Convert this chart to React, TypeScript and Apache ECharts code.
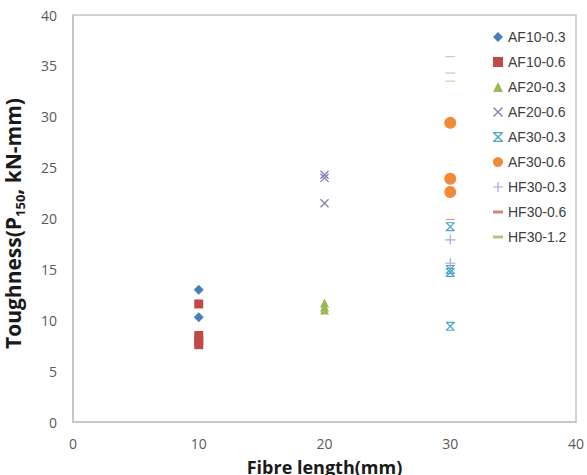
import React, { useEffect, useRef } from "react";
import * as echarts from "echarts";

// Mix labels and the fibre length (mm) each mix was tested at
const seriesNames = [
  "AF10-0.3",
  "AF10-0.6",
  "AF20-0.3",
  "AF20-0.6",
  "AF30-0.3",
  "AF30-0.6",
  "HF30-0.3",
  "HF30-0.6",
  "HF30-1.2",
];
const fibreLengths = [10, 10, 20, 20, 30, 30, 30, 30, 30];

// Toughness values (kN-mm) of the individual specimens of each mix
const af10_03 = [13.0, 10.3];
const af10_06 = [11.6, 8.5, 8.0, 7.6];
const af20_03 = [11.7, 11.3, 11.0];
const af20_06 = [24.3, 24.0, 21.5];
const af30_03 = [19.2, 15.0, 14.7, 9.4];
const af30_06 = [29.4, 23.9, 22.6];
const hf30_03 = [17.9, 15.6];
const hf30_06 = [19.9, 23.7];
const hf30_12 = [35.9, 34.3, 33.5];

const seriesValues = [af10_03, af10_06, af20_03, af20_06, af30_03, af30_06, hf30_03, hf30_06, hf30_12];

// Axis ticks
const xTicks = [0, 10, 20, 30, 40];
const yTicks = [0, 5, 10, 15, 20, 25, 30, 35, 40];

// Marker shapes drawn as filled outlines
const crossPath =
  "path://M0,1 L1,0 L10,9 L9,10 Z M9,0 L10,1 L1,10 L0,9 Z";
const hourglassPath =
  "path://M0,1 L1,0 L10,9 L9,10 Z M9,0 L10,1 L1,10 L0,9 Z M0,0 L10,0 L10,1.2 L0,1.2 Z M0,8.8 L10,8.8 L10,10 L0,10 Z";
const plusPath =
  "path://M4.4,0 L5.6,0 L5.6,10 L4.4,10 Z M0,4.4 L10,4.4 L10,5.6 L0,5.6 Z";
const dashPath = "path://M0,0 L10,0 L10,3 L0,3 Z";

const markerStyles = [
  { symbol: "diamond", size: 10, color: "#4a7ebb" },
  { symbol: "rect", size: 9, color: "#be4b48" },
  { symbol: "triangle", size: 9, color: "#98b954" },
  { symbol: crossPath, size: 9, color: "#8a7cb4" },
  { symbol: hourglassPath, size: 9, color: "#46aac5" },
  { symbol: "circle", size: 12, color: "#f38b36" },
  { symbol: plusPath, size: 10, color: "#a9a6d6" },
  { symbol: dashPath, size: [9, 3], color: "#d9837f" },
  { symbol: dashPath, size: [10, 3], color: "#adc683" },
];

export default function App() {
  const ref = useRef<HTMLDivElement>(null);

  useEffect(() => {
    if (!ref.current) return;
    const chart = echarts.init(ref.current, null, { renderer: "svg" });

    const series = seriesNames.map((name, i) => ({
      name,
      type: "scatter",
      symbol: markerStyles[i].symbol,
      symbolSize: markerStyles[i].size,
      symbolKeepAspect: true,
      itemStyle: { color: markerStyles[i].color, opacity: 1 },
      data: seriesValues[i].map((v) => [fibreLengths[i], v]),
    }));

    chart.setOption({
      animation: false,
      backgroundColor: "#ffffff",
      grid: {
        left: 73,
        right: 11,
        top: 15,
        bottom: 53,
        outerBoundsMode: "none",
        containLabel: false,
        show: true,
        borderColor: "#c4c4c4",
        borderWidth: 1.5,
      },
      legend: {
        orient: "vertical",
        left: 488,
        top: 25,
        itemWidth: 10,
        itemHeight: 10,
        itemGap: 11,
        textStyle: {
          fontFamily: "Liberation Sans",
          fontSize: 14,
          color: "#404040",
        },
        data: seriesNames,
      },
      xAxis: {
        type: "value",
        min: xTicks[0],
        max: xTicks[xTicks.length - 1],
        interval: 10,
        splitLine: { show: false },
        axisTick: { show: false },
        axisLine: { show: true, lineStyle: { color: "#c4c4c4", width: 1.5 } },
        axisLabel: {
          margin: 14,
          fontFamily: "Open Sans",
          fontSize: 14,
          color: "#595959",
        },
        name: "Fibre length(mm)",
        nameLocation: "middle",
        nameGap: 36,
        nameTextStyle: {
          fontFamily: "Open Sans",
          fontWeight: "bold",
          fontSize: 18,
          color: "#1a1a1a",
        },
      },
      yAxis: {
        type: "value",
        min: yTicks[0],
        max: yTicks[yTicks.length - 1],
        interval: 5,
        splitLine: { show: false },
        axisTick: { show: false },
        axisLine: { show: true, lineStyle: { color: "#c4c4c4", width: 1.5 } },
        axisLabel: {
          margin: 16,
          fontFamily: "Open Sans",
          fontSize: 14,
          color: "#595959",
        },
        name: "{t|Toughness(P}{s|150}{t|, kN-mm)}",
        nameLocation: "middle",
        nameGap: 47,
        nameTextStyle: {
          padding: [0, 10, 0, 0],
          rich: {
            t: {
              fontFamily: "Open Sans",
              fontWeight: "bold",
              fontSize: 21,
              lineHeight: 26,
              color: "#1a1a1a",
            },
            s: {
              fontFamily: "Open Sans",
              fontWeight: "bold",
              fontSize: 13,
              lineHeight: 12,
              verticalAlign: "bottom",
              color: "#1a1a1a",
            },
          },
        },
      },
      series,
    });

    return () => chart.dispose();
  }, []);

  return (
    <div
      ref={ref}
      style={{ position: "fixed", left: 0, top: 0, width: 587, height: 475 }}
    />
  );
}
